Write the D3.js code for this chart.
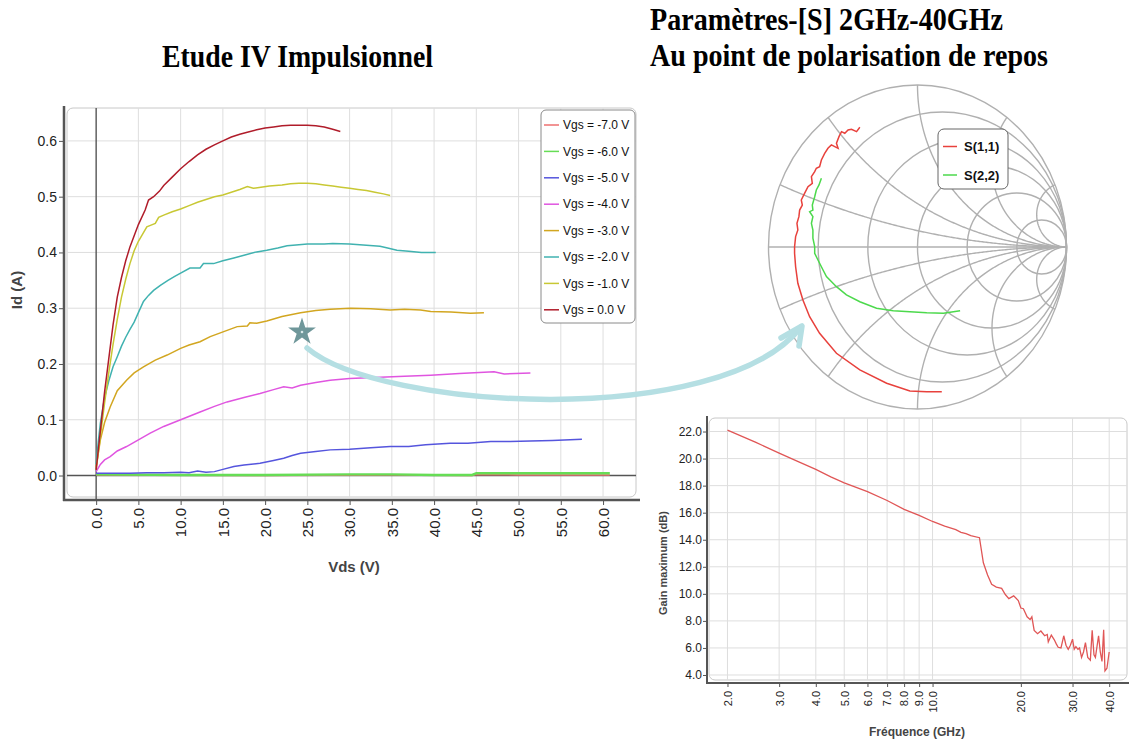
<!DOCTYPE html>
<html>
<head>
<meta charset="utf-8">
<script src="https://cdn.jsdelivr.net/npm/d3@7"></script>
<style>
  body { margin: 0; background: #fff; }
  svg { display: block; font-family: "Liberation Sans", Arial, sans-serif; }
</style>
</head>
<body>
<svg id="fig" width="1133" height="740"></svg>
<script>
// IV curves (pulsed): [Vds (V), Id (A)] per gate voltage
const vgsLabels = ['Vgs = -7.0 V', 'Vgs = -6.0 V', 'Vgs = -5.0 V', 'Vgs = -4.0 V',
                   'Vgs = -3.0 V', 'Vgs = -2.0 V', 'Vgs = -1.0 V', 'Vgs = 0.0 V'];
const vgsColors = ['#ee7070', '#66dd55', '#5555dd', '#e055e0',
                   '#d2a620', '#40b2b0', '#c8c834', '#b01c2a'];

const ivVgsM7 = [[0, 0.001], [20, 0], [35, 0.001], [44.5, 0], [45, 0.002], [50, 0.001], [60.8, 0.001]];
const ivVgsM6 = [[0, 0.002], [10, 0.001], [20, 0.001], [30, 0.002], [35, 0.002], [40, 0.001], [44.5, 0.001],
                 [45, 0.004], [50, 0.004], [55, 0.004], [60.8, 0.004]];
const ivVgsM5 = [[0, 0.004], [2, 0.004], [4, 0.004], [6, 0.005], [8, 0.005], [10, 0.006], [11, 0.005], [12, 0.008],
                 [13, 0.006], [14, 0.007], [15, 0.011], [16.3, 0.016], [17.5, 0.019], [19.4, 0.022], [21, 0.027],
                 [22.2, 0.031], [23.2, 0.036], [24.2, 0.04], [26, 0.043], [27.7, 0.046], [30, 0.047], [32.5, 0.05],
                 [34.8, 0.052], [37, 0.052], [39, 0.055], [41.9, 0.058], [44, 0.058], [46.7, 0.061], [49, 0.061],
                 [51.4, 0.062], [54, 0.063], [57.5, 0.065]];
const ivVgsM4 = [[0, 0.007], [0.5, 0.02], [1, 0.028], [1.66, 0.034], [2.5, 0.044], [3.6, 0.052], [5, 0.064],
                 [6.4, 0.076], [8, 0.088], [10, 0.1], [12.3, 0.114], [14, 0.124], [15.5, 0.132], [17.5, 0.14],
                 [19.4, 0.147], [21, 0.154], [22.2, 0.159], [23.2, 0.157], [24.2, 0.162], [26, 0.167], [27.7, 0.171],
                 [30, 0.174], [33.6, 0.176], [36.5, 0.178], [39.6, 0.18], [43, 0.183], [47.1, 0.186], [48.3, 0.182],
                 [51.4, 0.184]];
const ivVgsM3 = [[0, 0.016], [0.5, 0.064], [1, 0.095], [1.66, 0.123], [2.5, 0.152], [3.6, 0.171], [4.5, 0.184],
                 [5.6, 0.195], [7, 0.207], [8.4, 0.216], [10, 0.228], [11, 0.234], [12.3, 0.24], [13.5, 0.249],
                 [15.1, 0.258], [16.7, 0.267], [17.9, 0.268], [18.2, 0.274], [19, 0.273], [20.2, 0.277], [22, 0.285],
                 [24.2, 0.292], [26, 0.296], [27.7, 0.298], [30.1, 0.3], [32.5, 0.299], [34.8, 0.297], [36.5, 0.298],
                 [38.4, 0.297], [39.6, 0.294], [42, 0.293], [44.3, 0.291], [45.9, 0.292]];
const ivVgsM2 = [[0, 0.02], [0.25, 0.06], [0.5, 0.094], [1, 0.14], [1.5, 0.17], [2, 0.195], [2.5, 0.213], [3, 0.232],
                 [3.5, 0.248], [4, 0.262], [4.5, 0.275], [5, 0.292], [5.6, 0.312], [6.2, 0.323], [6.8, 0.332],
                 [7.6, 0.341], [8.5, 0.35], [9.3, 0.357], [10, 0.363], [11.1, 0.372], [12.3, 0.372], [12.7, 0.38],
                 [13.9, 0.38], [15, 0.385], [16.3, 0.39], [17.5, 0.395], [19, 0.401], [20.2, 0.404], [21.5, 0.408],
                 [22.6, 0.412], [24, 0.414], [25, 0.415], [27, 0.415], [28, 0.416], [30, 0.415], [32, 0.413],
                 [33.6, 0.411], [34.5, 0.408], [35.6, 0.404], [37, 0.402], [38.5, 0.4], [40.2, 0.4]];
const ivVgsM1 = [[0, 0.01], [0.5, 0.07], [1, 0.13], [1.5, 0.185], [2, 0.235], [2.5, 0.28], [3, 0.32], [3.5, 0.352],
                 [4, 0.38], [4.5, 0.403], [5, 0.42], [5.5, 0.433], [6, 0.446], [6.5, 0.449], [7, 0.452], [7.4, 0.463],
                 [8, 0.467], [9, 0.473], [10, 0.478], [11, 0.484], [12, 0.49], [13, 0.495], [14, 0.5], [15, 0.503],
                 [16, 0.508], [17, 0.513], [17.9, 0.518], [18.6, 0.515], [19.5, 0.517], [20.5, 0.519], [22, 0.521],
                 [23, 0.523], [24, 0.524], [25, 0.524], [26, 0.523], [27, 0.521], [28, 0.519], [29, 0.517],
                 [30, 0.515], [31, 0.513], [32, 0.511], [33, 0.508], [34, 0.505], [34.8, 0.502]];
const ivVgs0 = [[0, 0.01], [0.5, 0.08], [1, 0.15], [1.5, 0.21], [2, 0.27], [2.5, 0.32], [3, 0.355], [3.5, 0.385],
                [4, 0.41], [4.5, 0.43], [5, 0.45], [5.8, 0.476], [6.2, 0.494], [6.8, 0.5], [7.5, 0.51], [8, 0.52],
                [9, 0.535], [10, 0.55], [11, 0.563], [12, 0.575], [13, 0.585], [14, 0.593], [15, 0.6], [16, 0.607],
                [17, 0.612], [18, 0.616], [19, 0.62], [20, 0.623], [21, 0.625], [22, 0.627], [23, 0.628],
                [24, 0.628], [25, 0.628], [26, 0.627], [27, 0.625], [28, 0.621], [28.9, 0.617]];
const ivSeries = [ivVgsM7, ivVgsM6, ivVgsM5, ivVgsM4, ivVgsM3, ivVgsM2, ivVgsM1, ivVgs0];

const ivVdsTicks = [0, 5, 10, 15, 20, 25, 30, 35, 40, 45, 50, 55, 60];
const ivIdTicks = [0, 0.1, 0.2, 0.3, 0.4, 0.5, 0.6];

// S-parameters 2-40 GHz, reflection coefficients [Re, Im]
const s11 = [[-0.387, 0.739], [-0.409, 0.712], [-0.443, 0.727], [-0.466, 0.722], [-0.488, 0.702], [-0.51, 0.712],
             [-0.527, 0.681], [-0.544, 0.64], [-0.533, 0.609], [-0.578, 0.63], [-0.601, 0.609], [-0.623, 0.578],
             [-0.645, 0.537], [-0.657, 0.496], [-0.679, 0.486], [-0.69, 0.465], [-0.712, 0.434], [-0.706, 0.393],
             [-0.735, 0.372], [-0.758, 0.331], [-0.78, 0.29], [-0.773, 0.259], [-0.791, 0.228], [-0.796, 0.187],
             [-0.809, 0.146], [-0.803, 0.105], [-0.818, 0.064], [-0.825, 0.002], [-0.825, -0.039], [-0.818, -0.122],
             [-0.803, -0.224], [-0.769, -0.327], [-0.724, -0.43], [-0.657, -0.533], [-0.544, -0.656],
             [-0.387, -0.759], [-0.207, -0.841], [-0.051, -0.889], [0.062, -0.893], [0.163, -0.893]];
const s22 = [[-0.645, 0.424], [-0.661, 0.383], [-0.679, 0.352], [-0.69, 0.31], [-0.706, 0.259], [-0.702, 0.228],
             [-0.724, 0.218], [-0.702, 0.187], [-0.712, 0.146], [-0.702, 0.105], [-0.702, 0.054], [-0.69, 0.002],
             [-0.69, -0.039], [-0.668, -0.08], [-0.634, -0.142], [-0.611, -0.183], [-0.544, -0.245],
             [-0.477, -0.296], [-0.387, -0.338], [-0.275, -0.378], [-0.163, -0.393], [-0.051, -0.399],
             [0.062, -0.406], [0.174, -0.409], [0.286, -0.393]];
const sLabels = ['S(1,1)', 'S(2,2)'];
const sColors = ['#e8413c', '#4cd94c'];
const smithResistances = [0.2, 0.5, 1, 2, 5];
const smithReactances = [0.2, 0.5, 1, 2, 5];

// Maximum available gain versus frequency
const gainFreq = [2, 2.5, 3, 3.5, 4, 4.5, 5, 6, 7, 8, 9, 10, 11, 12, 12.5, 13, 13.5, 14.45, 14.9, 15.4, 15.9, 16.5,
                  17.2, 17.7, 18.2, 18.9, 19.6, 20.0, 20.4, 21.0, 21.5, 21.8, 22.2, 22.8, 23.4, 24.1, 24.6, 24.8,
                  25.4, 26.0, 26.4, 26.8, 27.4, 28.0, 28.5, 29.0, 29.5, 30.0, 30.4, 30.8, 31.3, 31.7, 32.2, 32.7,
                  33.2, 33.8, 34.5, 35.0, 35.5, 35.9, 36.8, 37.3, 37.8, 38.3, 38.7, 39.3, 40.0];
const gainDb = [22.1, 21.2, 20.4, 19.75, 19.2, 18.65, 18.2, 17.55, 16.9, 16.25, 15.8, 15.35, 15.0, 14.75, 14.55,
                14.45, 14.3, 14.15, 12.3, 11.4, 10.7, 10.5, 10.4, 9.95, 9.65, 9.85, 9.5, 8.95, 8.9, 8.3, 8.1, 8.3,
                7.3, 7.05, 7.25, 6.9, 7.0, 6.45, 6.95, 6.6, 6.3, 6.05, 6.0, 6.9, 6.2, 5.9, 6.2, 6.65, 5.9, 6.1, 5.9,
                6.0, 5.3, 5.7, 6.4, 5.3, 5.1, 7.3, 5.5, 5.3, 6.9, 5.7, 5.0, 7.35, 4.3, 4.5, 5.7];
const gainFreqTicks = [2, 3, 4, 5, 6, 7, 8, 9, 10, 20, 30, 40];
const gainDbTicks = [4, 6, 8, 10, 12, 14, 16, 18, 20, 22];

const svg = d3.select('#fig');
svg.append('rect').attr('width', 1133).attr('height', 740).attr('fill', '#fff');

const fmt1 = d3.format('.1f');

// ---------- titles (tall, narrow serif) ----------
const titles = svg.append('g')
  .style('font-family', '"Liberation Serif", "Times New Roman", serif')
  .style('font-weight', 'bold')
  .style('font-size', '31px')
  .attr('fill', '#000');
titles.append('text').attr('x', 162).attr('y', 67)
  .attr('textLength', 271).attr('lengthAdjust', 'spacingAndGlyphs').text('Etude IV Impulsionnel');
titles.append('text').attr('x', 650).attr('y', 30)
  .attr('textLength', 353).attr('lengthAdjust', 'spacingAndGlyphs').text('Paramètres-[S] 2GHz-40GHz');
titles.append('text').attr('x', 650).attr('y', 66)
  .attr('textLength', 398).attr('lengthAdjust', 'spacingAndGlyphs').text('Au point de polarisation de repos');

// ---------- IV chart ----------
const ivX = d3.scaleLinear().domain([-3.45, 63.9]).range([67, 636]);
const ivY = d3.scaleLinear().domain([-0.0385, 0.659]).range([497, 108]);

const iv = svg.append('g');
iv.append('rect')
  .attr('x', ivX.range()[0]).attr('y', ivY.range()[1])
  .attr('width', ivX.range()[1] - ivX.range()[0])
  .attr('height', ivY.range()[0] - ivY.range()[1])
  .attr('rx', 6).attr('fill', '#fff').attr('stroke', '#c8c8c8');

iv.selectAll('.vgrid').data(ivVdsTicks.filter(d => d !== 0)).enter().append('line')
  .attr('x1', d => ivX(d)).attr('x2', d => ivX(d))
  .attr('y1', ivY.range()[1]).attr('y2', ivY.range()[0])
  .attr('stroke', '#dedede');
iv.selectAll('.hgrid').data(ivIdTicks.filter(d => d !== 0)).enter().append('line')
  .attr('x1', ivX.range()[0]).attr('x2', ivX.range()[1])
  .attr('y1', d => ivY(d)).attr('y2', d => ivY(d))
  .attr('stroke', '#dedede');

// zero lines
iv.append('line')
  .attr('x1', ivX(0)).attr('x2', ivX(0)).attr('y1', ivY.range()[1]).attr('y2', 500)
  .attr('stroke', '#555').attr('stroke-width', 1.4);
iv.append('line')
  .attr('x1', ivX.range()[0]).attr('x2', ivX.range()[1]).attr('y1', ivY(0)).attr('y2', ivY(0))
  .attr('stroke', '#555').attr('stroke-width', 1.4);

const ivLine = d3.line().x(d => ivX(d[0])).y(d => ivY(d[1]));
iv.selectAll('.ivcurve').data(ivSeries).enter().append('path')
  .attr('class', 'ivcurve')
  .attr('d', ivLine)
  .attr('fill', 'none')
  .attr('stroke', (d, i) => vgsColors[i])
  .attr('stroke-width', (d, i) => i === 1 ? 2.4 : 1.5);

// axes
const ivYAxis = iv.append('g').attr('transform', 'translate(64,0)')
  .call(d3.axisLeft(ivY).tickValues(ivIdTicks).tickFormat(fmt1).tickSize(5).tickPadding(2));
const ivXAxis = iv.append('g').attr('transform', 'translate(0,500)')
  .call(d3.axisBottom(ivX).tickValues(ivVdsTicks).tickFormat(fmt1).tickSize(5));
[ivYAxis, ivXAxis].forEach(a => {
  a.select('.domain').remove();
  a.selectAll('line').attr('stroke', '#555');
  a.selectAll('text').attr('fill', '#222').style('font-size', '14px');
});
ivXAxis.selectAll('text')
  .attr('transform', 'rotate(-90)')
  .attr('x', -8).attr('y', 0).attr('dy', '0.35em')
  .style('text-anchor', 'end').style('font-size', '15px');
iv.append('line').attr('x1', 64).attr('x2', 64).attr('y1', 106).attr('y2', 501)
  .attr('stroke', '#555').attr('stroke-width', 2.5);
iv.append('line').attr('x1', 63).attr('x2', 640).attr('y1', 500).attr('y2', 500)
  .attr('stroke', '#555').attr('stroke-width', 2.5);

iv.append('text').attr('transform', 'translate(22,290) rotate(-90)')
  .attr('text-anchor', 'middle').attr('fill', '#444')
  .style('font-weight', 'bold').style('font-size', '15px').text('Id (A)');
iv.append('text').attr('x', 354).attr('y', 572)
  .attr('text-anchor', 'middle').attr('fill', '#444')
  .style('font-weight', 'bold').style('font-size', '15px').text('Vds (V)');

// legend
const ivLegend = iv.append('g').attr('transform', 'translate(541,110)');
ivLegend.append('rect').attr('width', 94).attr('height', 213).attr('rx', 5)
  .attr('fill', '#fff').attr('stroke', '#8a8a8a');
const ivItems = ivLegend.selectAll('.item').data(vgsLabels).enter().append('g')
  .attr('transform', (d, i) => `translate(0,${15 + i * 26.4})`);
ivItems.append('line').attr('x1', 3).attr('x2', 18)
  .attr('stroke', (d, i) => vgsColors[i]).attr('stroke-width', 1.5);
ivItems.append('text').attr('x', 22).attr('dy', '0.35em')
  .attr('fill', '#111').style('font-size', '12px').text(d => d);

// ---------- Smith chart ----------
const sx = d3.scaleLinear().domain([-1, 1]).range([768.5, 1066.5]);
const sy = d3.scaleLinear().domain([-1, 1]).range([409, 85]);
const smith = svg.append('g');
const gridStroke = '#b0b0b0';

function gamma(r, x) {
  const d = (r + 1) * (r + 1) + x * x;
  return [(r * r + x * x - 1) / d, 2 * x / d];
}

// outer circle and constant-resistance circles
smith.selectAll('.rcircle').data([0].concat(smithResistances)).enter().append('ellipse')
  .attr('cx', r => sx(r / (r + 1)))
  .attr('cy', sy(0))
  .attr('rx', r => sx(r / (r + 1) + 1 / (r + 1)) - sx(r / (r + 1)))
  .attr('ry', r => sy(0) - sy(1 / (r + 1)))
  .attr('fill', 'none').attr('stroke', gridStroke).attr('stroke-width', 1.4);
smith.append('line').attr('x1', sx(-1)).attr('x2', sx(1)).attr('y1', sy(0)).attr('y2', sy(0))
  .attr('stroke', gridStroke).attr('stroke-width', 1.4);

// constant-reactance arcs
const rSamples = d3.range(0, 200).map(i => Math.tan(i / 200 * Math.PI / 2));
const smithLine = d3.line().x(d => sx(d[0])).y(d => sy(d[1]));
const arcs = [];
smithReactances.forEach(x => {
  arcs.push(rSamples.map(r => gamma(r, x)).concat([[1, 0]]));
  arcs.push(rSamples.map(r => gamma(r, -x)).concat([[1, 0]]));
});
smith.selectAll('.xarc').data(arcs).enter().append('path')
  .attr('d', smithLine).attr('fill', 'none')
  .attr('stroke', gridStroke).attr('stroke-width', 1.4);

smith.selectAll('.strace').data([s11, s22]).enter().append('path')
  .attr('d', smithLine).attr('fill', 'none')
  .attr('stroke', (d, i) => sColors[i]).attr('stroke-width', 1.5);

const sLegend = smith.append('g').attr('transform', 'translate(938,129)');
sLegend.append('rect').attr('width', 70).attr('height', 60).attr('rx', 6)
  .attr('fill', '#fff').attr('stroke', '#666');
const sItems = sLegend.selectAll('.item').data(sLabels).enter().append('g')
  .attr('transform', (d, i) => `translate(0,${17.5 + i * 28.5})`);
sItems.append('line').attr('x1', 5).attr('x2', 19)
  .attr('stroke', (d, i) => sColors[i]).attr('stroke-width', 1.5);
sItems.append('text').attr('x', 26).attr('dy', '0.35em')
  .attr('fill', '#111').style('font-weight', 'bold').style('font-size', '13px').text(d => d);

// ---------- gain chart ----------
const gX = d3.scaleLog().domain([1.73, 46]).range([709, 1127]);
const gY = d3.scaleLinear().domain([3.63, 23]).range([680, 418]);
const gain = svg.append('g');
gain.append('rect')
  .attr('x', gX.range()[0]).attr('y', gY.range()[1])
  .attr('width', gX.range()[1] - gX.range()[0])
  .attr('height', gY.range()[0] - gY.range()[1])
  .attr('rx', 6).attr('fill', '#fff').attr('stroke', '#c8c8c8');
gain.selectAll('.vgrid').data(gainFreqTicks).enter().append('line')
  .attr('x1', d => gX(d)).attr('x2', d => gX(d))
  .attr('y1', gY.range()[1]).attr('y2', gY.range()[0])
  .attr('stroke', '#dedede');
gain.selectAll('.hgrid').data(gainDbTicks).enter().append('line')
  .attr('x1', gX.range()[0]).attr('x2', gX.range()[1])
  .attr('y1', d => gY(d)).attr('y2', d => gY(d))
  .attr('stroke', '#dedede');

gain.append('path')
  .datum(gainFreq.map((f, i) => [f, gainDb[i]]))
  .attr('d', d3.line().x(d => gX(d[0])).y(d => gY(d[1])))
  .attr('fill', 'none').attr('stroke', '#e05656').attr('stroke-width', 1.3);

const gYAxis = gain.append('g').attr('transform', 'translate(707,0)')
  .call(d3.axisLeft(gY).tickValues(gainDbTicks).tickFormat(fmt1).tickSize(4).tickPadding(1));
const gXAxis = gain.append('g').attr('transform', 'translate(0,683)')
  .call(d3.axisBottom(gX).tickValues(gainFreqTicks).tickFormat(fmt1).tickSize(4));
[gYAxis, gXAxis].forEach(a => {
  a.select('.domain').remove();
  a.selectAll('line').attr('stroke', '#555');
  a.selectAll('text').attr('fill', '#222').style('font-size', '12px');
});
gXAxis.selectAll('text')
  .attr('transform', 'rotate(-90)')
  .attr('x', -8).attr('y', 0).attr('dy', '0.35em')
  .style('text-anchor', 'end').style('font-size', '11px');
gain.append('line').attr('x1', 707).attr('x2', 707).attr('y1', 416).attr('y2', 684)
  .attr('stroke', '#555').attr('stroke-width', 2);
gain.append('line').attr('x1', 706).attr('x2', 1129).attr('y1', 683).attr('y2', 683)
  .attr('stroke', '#555').attr('stroke-width', 2);

gain.append('text').attr('transform', 'translate(667,563) rotate(-90)')
  .attr('text-anchor', 'middle').attr('fill', '#444')
  .style('font-weight', 'bold').style('font-size', '11px').text('Gain maximum (dB)');
gain.append('text').attr('x', 917).attr('y', 736)
  .attr('text-anchor', 'middle').attr('fill', '#444')
  .style('font-weight', 'bold').style('font-size', '12px').text('Fréquence (GHz)');

// ---------- annotation: bias point star and arrow to the S-parameters ----------
const note = svg.append('g');
note.append('path')
  .attr('d', 'M307,348 C380,410 720,430 801,327')
  .attr('fill', 'none').attr('stroke', '#b5dfe3').attr('stroke-width', 5.5)
  .attr('stroke-linecap', 'round');
note.append('path')
  .attr('d', 'M781,338 L802,326 L799,346')
  .attr('fill', 'none').attr('stroke', '#b5dfe3').attr('stroke-width', 5.5)
  .attr('stroke-linecap', 'round').attr('stroke-linejoin', 'round');
note.append('path')
  .attr('d', d3.symbol().type(d3.symbolStar).size(240))
  .attr('transform', 'translate(302,332)')
  .attr('fill', '#6f979a');
note.append('circle').attr('cx', 302).attr('cy', 332).attr('r', 1.3).attr('fill', '#d9e9ea');
</script>
</body>
</html>
